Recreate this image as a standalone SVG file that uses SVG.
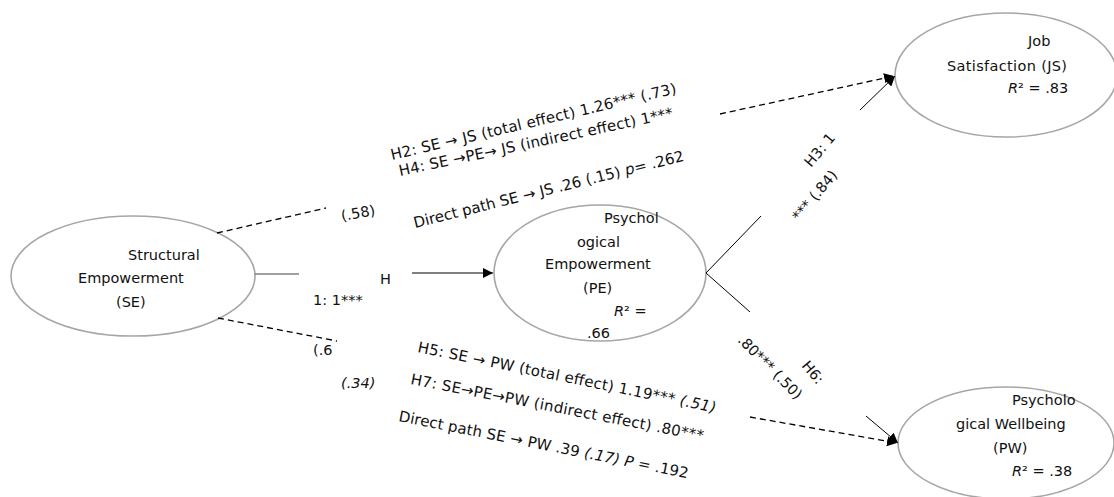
<svg xmlns="http://www.w3.org/2000/svg" width="1114" height="497" viewBox="0 0 1114 497">
<defs>
<marker id="ah" viewBox="0 0 10 10" refX="10" refY="5" markerWidth="10" markerHeight="10" markerUnits="userSpaceOnUse" orient="auto"><path d="M0,0 L10,5 L0,10 z" fill="#000"/></marker>
<style>
text{font-family:"DejaVu Sans","Liberation Sans",sans-serif;font-size:14.5px;fill:#111}
.lab{font-size:15px}
.it{font-style:italic}
.node{fill:#fff;stroke:#a6a6a6;stroke-width:1.6}
.ln{stroke:#000;stroke-width:1;fill:none}
.dash{stroke:#000;stroke-width:1.3;stroke-dasharray:6,4;fill:none}
</style>
</defs>
<rect width="1114" height="497" fill="#fff"/>
<g id="SE">
<ellipse class="node" cx="133" cy="276" rx="122" ry="60"/>
<text x="128" y="260">Structural</text>
<text x="78" y="283">Empowerment</text>
<text x="116" y="307">(SE)</text>
</g>
<g id="PE">
<ellipse class="node" cx="600" cy="273" rx="106" ry="68"/>
<text x="604" y="223">Psychol</text>
<text x="577" y="247">ogical</text>
<text x="545" y="269">Empowerment</text>
<text x="583" y="293">(PE)</text>
<text x="614" y="316"><tspan class="it">R</tspan>² =</text>
<text x="587" y="338">.66</text>
</g>
<g id="JS">
<ellipse class="node" cx="1006" cy="75" rx="111" ry="62"/>
<text x="1028" y="46">Job</text>
<text x="947" y="71" textLength="120" lengthAdjust="spacing">Satisfaction (JS)</text>
<text x="1008" y="93"><tspan class="it">R</tspan>² = .83</text>
</g>
<g id="PW">
<ellipse class="node" cx="1006" cy="443" rx="108" ry="56"/>
<text x="1012" y="405">Psycholo</text>
<text x="956" y="429">gical Wellbeing</text>
<text x="993" y="453">(PW)</text>
<text x="1012" y="476"><tspan class="it">R</tspan>² = .38</text>
</g>
<g id="connectors">
<line x1="255" y1="274" x2="299" y2="274" stroke="#808080" stroke-width="1.3"/>
<line class="ln" x1="412" y1="273" x2="493" y2="273" marker-end="url(#ah)"/>
<line class="dash" x1="217" y1="233" x2="326" y2="208"/>
<line class="dash" x1="218" y1="318" x2="337" y2="341"/>
<line class="ln" x1="706" y1="273" x2="761" y2="216"/>
<line class="ln" x1="706" y1="273" x2="750" y2="312"/>
<line class="dash" x1="720" y1="114" x2="894" y2="76" marker-end="url(#ah)"/>
<line class="ln" x1="860" y1="110" x2="895" y2="76" marker-end="url(#ah)"/>
<line class="dash" x1="750" y1="417" x2="897" y2="443" marker-end="url(#ah)"/>
<line class="ln" x1="866" y1="416" x2="898" y2="443" marker-end="url(#ah)"/>
</g>
<g id="labels">
<text x="380" y="284">H</text>
<text x="313" y="305">1: 1***</text>
<text transform="translate(342,221) rotate(-10)">(.58)</text>
<text x="313" y="355">(.6</text>
<text class="it" x="341" y="388">(.34)</text>
<text class="lab" transform="translate(392,160) rotate(-13.2)" textLength="293" lengthAdjust="spacing">H2: SE → JS (total effect) 1.26*** (.73)</text>
<text class="lab" transform="translate(400,176) rotate(-12)" textLength="280" lengthAdjust="spacing">H4: SE →PE→ JS (indirect effect) 1***</text>
<text class="lab" transform="translate(415,228) rotate(-14)" textLength="278" lengthAdjust="spacing">Direct path SE → JS .26 (.15) <tspan class="it">p</tspan>= .262</text>
<text class="lab" transform="translate(417,352) rotate(11.5)" textLength="304" lengthAdjust="spacing">H5: SE → PW (total effect) 1.19*** <tspan class="it">(.51)</tspan></text>
<text class="lab" transform="translate(410,384) rotate(11)" textLength="298" lengthAdjust="spacing">H7: SE→PE→PW (indirect effect) .80***</text>
<text class="lab" transform="translate(398,421) rotate(11.2)" textLength="295" lengthAdjust="spacing">Direct path SE → PW .39 <tspan class="it">(.17) P</tspan> = .192</text>
<text transform="translate(811,168) rotate(-50)">H3: 1</text>
<text transform="translate(799,222) rotate(-50)">*** (.84)</text>
<text transform="translate(801,366) rotate(50)">H6:</text>
<text transform="translate(737,341) rotate(45)">.80*** (.50)</text>
</g>
</svg>
